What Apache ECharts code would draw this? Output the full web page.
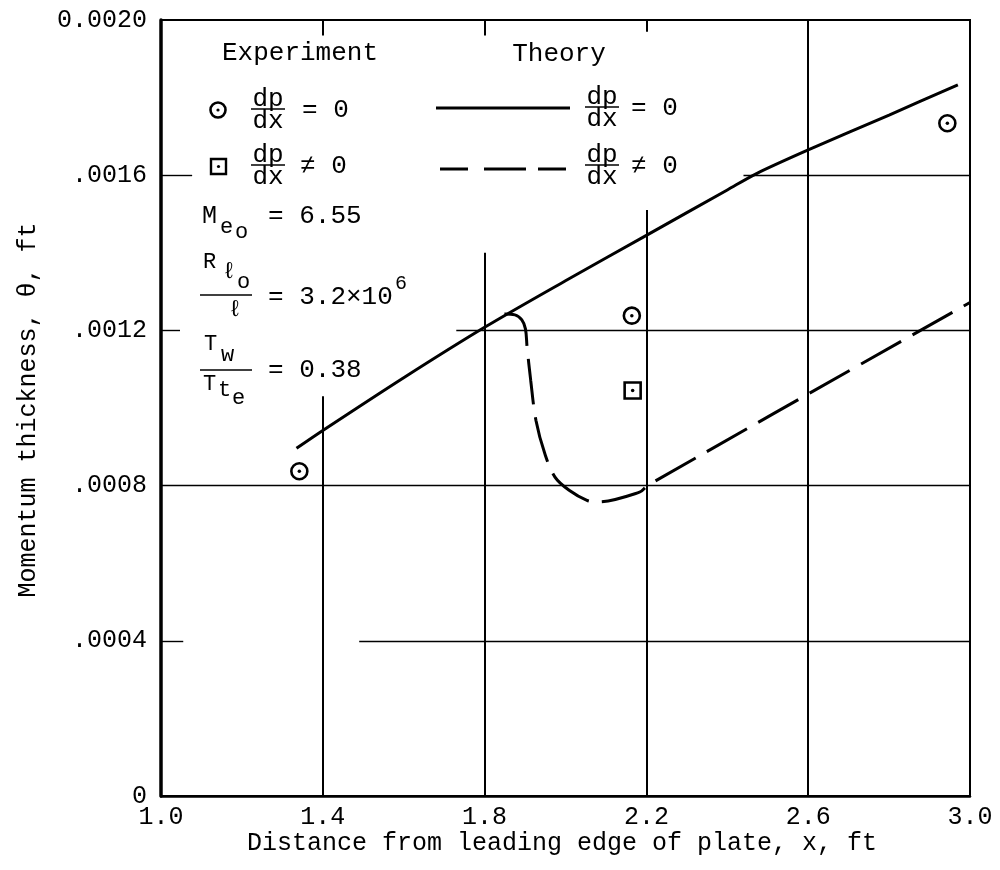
<!DOCTYPE html>
<html>
<head>
<meta charset="utf-8">
<title>Momentum thickness vs distance</title>
<script src="https://cdn.jsdelivr.net/npm/echarts@6/dist/echarts.min.js"></script>
<style>
  html, body { margin: 0; padding: 0; background: #fff; }
  #chart { width: 1000px; height: 870px; }
</style>
</head>
<body>
<div id="chart"></div>
<script>
// Axis ticks
const xTicks = [1.0, 1.4, 1.8, 2.2, 2.6, 3.0];
const yTickValues = [0, 0.0004, 0.0008, 0.0012, 0.0016, 0.0020];
const yTickLabels = ['0', '.0004', '.0008', '.0012', '.0016', '0.0020'];

// Theory, dp/dx = 0 (solid curve)
const theoryZeroX = [1.335, 1.4, 1.6, 1.8, 2.0, 2.2, 2.4, 2.47, 2.6, 2.8, 2.97];
const theoryZeroY = [0.000896, 0.000942, 0.001078, 0.001208, 0.001328, 0.001445, 0.001562, 0.001603, 0.001665, 0.001755, 0.001833];

// Theory, dp/dx != 0 (dashed curve)
const theoryGradX = [1.849, 1.875, 1.892, 1.901, 1.905, 1.914, 1.927, 1.949, 1.974, 2.009, 2.053, 2.078, 2.183, 2.204, 3.0];
const theoryGradY = [0.001242, 0.001240, 0.001227, 0.001204, 0.001157, 0.001071, 0.000968, 0.000882, 0.000822, 0.000788, 0.000762, 0.000758, 0.000783, 0.000801, 0.001272];

// Experiment, dp/dx = 0 (circles)
const expZeroX = [1.342, 2.164, 2.944];
const expZeroY = [0.000837, 0.001238, 0.001734];

// Experiment, dp/dx != 0 (squares)
const expGradX = [2.166];
const expGradY = [0.001045];

// Grid line pieces (left open where the key sits)
const gridVertical = [
  [1.4, 0, 0.00103], [1.4, 0.00196, 0.0020],
  [1.8, 0, 0.00140], [1.8, 0.00196, 0.0020],
  [2.2, 0, 0.00151], [2.2, 0.00197, 0.0020],
  [2.6, 0, 0.0020]
];
const gridHorizontal = [
  [0.0016, 1.0, 1.077], [0.0016, 2.44, 3.0],
  [0.0012, 1.0, 1.047], [0.0012, 1.73, 3.0],
  [0.0008, 1.0, 3.0],
  [0.0004, 1.0, 1.055], [0.0004, 1.49, 3.0]
];

const FONT = "'Liberation Mono', 'DejaVu Sans Mono', monospace";
const zip = (xs, ys) => xs.map((x, i) => [x, ys[i]]);

const chart = echarts.init(document.getElementById('chart'), null, { renderer: 'canvas' });

function txt(text, x, y, size, align, vAlign) {
  return {
    type: 'text', x: x, y: y, silent: true,
    style: {
      text: text, fill: '#000',
      font: size + 'px ' + FONT,
      align: align || 'left', verticalAlign: vAlign || 'middle'
    }
  };
}
function hline(x1, x2, y, w) {
  return { type: 'line', silent: true, shape: { x1: x1, y1: y, x2: x2, y2: y },
           style: { stroke: '#000', lineWidth: w || 1.6 } };
}
// fraction dp/dx centred at cx, cy
function dpdx(cx, cy) {
  return [
    txt('dp', cx, cy - 11, 26, 'center'),
    hline(cx - 17, cx + 17, cy - 1, 1.6),
    txt('dx', cx, cy + 11, 26, 'center')
  ];
}

const keyElements = [].concat(
  [txt('Experiment', 300, 53, 26, 'center'), txt('Theory', 559, 54, 26, 'center')],
  // circle key
  [{ type: 'circle', silent: true, shape: { cx: 218, cy: 110, r: 7.5 },
     style: { fill: '#fff', stroke: '#000', lineWidth: 2.6 } },
   { type: 'circle', silent: true, shape: { cx: 218, cy: 110, r: 1.6 }, style: { fill: '#000' } }],
  dpdx(268, 110), [txt('= 0', 302, 110, 26)],
  // square key
  [{ type: 'rect', silent: true, shape: { x: 211, y: 159, width: 15, height: 15 },
     style: { fill: '#fff', stroke: '#000', lineWidth: 2.4 } },
   { type: 'circle', silent: true, shape: { cx: 218.5, cy: 166.5, r: 1.6 }, style: { fill: '#000' } }],
  dpdx(268, 166), [txt('\u2260 0', 300, 166, 26)],
  // theory keys
  [hline(436, 570, 108, 3)],
  dpdx(602, 108), [txt('= 0', 631, 108, 26)],
  [{ type: 'line', silent: true, shape: { x1: 440, y1: 169, x2: 570, y2: 169 },
     style: { stroke: '#000', lineWidth: 3, lineDash: [28, 16, 42, 12] } }],
  dpdx(602, 166), [txt('\u2260 0', 631, 166, 26)],
  // Mach number
  [txt('M', 202, 216, 25), txt('e', 220, 227, 22), txt('o', 235, 232, 22), txt('= 6.55', 268, 216, 26)],
  // Reynolds number per unit length
  [txt('R', 203, 262, 22), txt('\u2113', 222, 272, 23), txt('o', 237, 282, 22),
   hline(200, 252, 295, 1.6), txt('\u2113', 228, 310, 23),
   txt('= 3.2\u00d710', 268, 297, 26), txt('6', 395, 284, 20)],
  // wall temperature ratio
  [txt('T', 204, 344, 22), txt('w', 221, 355, 22),
   hline(200, 252, 370, 1.6),
   txt('T', 203, 384, 22), txt('t', 218, 390, 22), txt('e', 232, 398, 22),
   txt('= 0.38', 268, 370, 26)],
  // axis titles
  [txt('Distance from leading edge of plate, x, ft', 562, 843, 25, 'center'),
   Object.assign(txt('Momentum thickness, \u03b8, ft', 28, 410, 25, 'center'), { rotation: Math.PI / 2 })]
);

const option = {
  animation: false,
  backgroundColor: '#fff',
  grid: { left: 161, right: 30, top: 20, bottom: 74, show: true, borderColor: '#000', borderWidth: 2 },
  xAxis: {
    type: 'value', min: 1.0, max: 3.0, interval: 0.4,
    axisLine: { show: true, lineStyle: { color: '#000', width: 2.5 } },
    axisTick: { show: false },
    splitLine: { show: false },
    axisLabel: {
      color: '#000', fontFamily: FONT, fontSize: 25, margin: 9,
      formatter: v => { const i = xTicks.findIndex(t => Math.abs(t - v) < 1e-9); return i >= 0 ? xTicks[i].toFixed(1) : ''; }
    }
  },
  yAxis: {
    type: 'value', min: 0, max: 0.0020, interval: 0.0004,
    axisLine: { show: true, lineStyle: { color: '#000', width: 3.5 } },
    axisTick: { show: false },
    splitLine: { show: false },
    axisLabel: {
      color: '#000', fontFamily: FONT, fontSize: 25, margin: 14,
      formatter: v => { const i = yTickValues.findIndex(t => Math.abs(t - v) < 1e-9); return i >= 0 ? yTickLabels[i] : ''; }
    }
  },
  graphic: { elements: keyElements },
  series: [
    {
      name: 'grid-v', type: 'line', data: [], silent: true,
      markLine: {
        silent: true, symbol: 'none', label: { show: false },
        lineStyle: { color: '#000', width: 2, type: 'solid' },
        data: gridVertical.map(g => [{ coord: [g[0], g[1]] }, { coord: [g[0], g[2]] }])
      }
    },
    {
      name: 'grid-h', type: 'line', data: [], silent: true,
      markLine: {
        silent: true, symbol: 'none', label: { show: false },
        lineStyle: { color: '#000', width: 1.4, type: 'solid' },
        data: gridHorizontal.map(g => [{ coord: [g[1], g[0]] }, { coord: [g[2], g[0]] }])
      }
    },
    {
      name: 'Theory dp/dx = 0', type: 'line', data: zip(theoryZeroX, theoryZeroY),
      showSymbol: false, smooth: 0.3, z: 5,
      lineStyle: { color: '#000', width: 3 }
    },
    {
      name: 'Theory dp/dx \u2260 0', type: 'line', data: zip(theoryGradX, theoryGradY),
      showSymbol: false, smooth: 0.35, z: 5,
      lineStyle: { color: '#000', width: 3, type: [46, 13] }
    },
    {
      name: 'Experiment dp/dx = 0', type: 'scatter', data: zip(expZeroX, expZeroY),
      symbol: 'circle', symbolSize: 16, z: 6,
      itemStyle: { color: '#fff', borderColor: '#000', borderWidth: 2.6, opacity: 1 }
    },
    {
      name: 'Experiment dp/dx \u2260 0', type: 'scatter', data: zip(expGradX, expGradY),
      symbol: 'rect', symbolSize: 16, z: 6,
      itemStyle: { color: '#fff', borderColor: '#000', borderWidth: 2.6, opacity: 1 }
    },
    {
      name: 'centre dots', type: 'scatter',
      data: zip(expZeroX.concat(expGradX), expZeroY.concat(expGradY)),
      symbol: 'circle', symbolSize: 3.5, z: 7,
      itemStyle: { color: '#000', opacity: 1 }
    }
  ]
};

chart.setOption(option);
</script>
</body>
</html>
